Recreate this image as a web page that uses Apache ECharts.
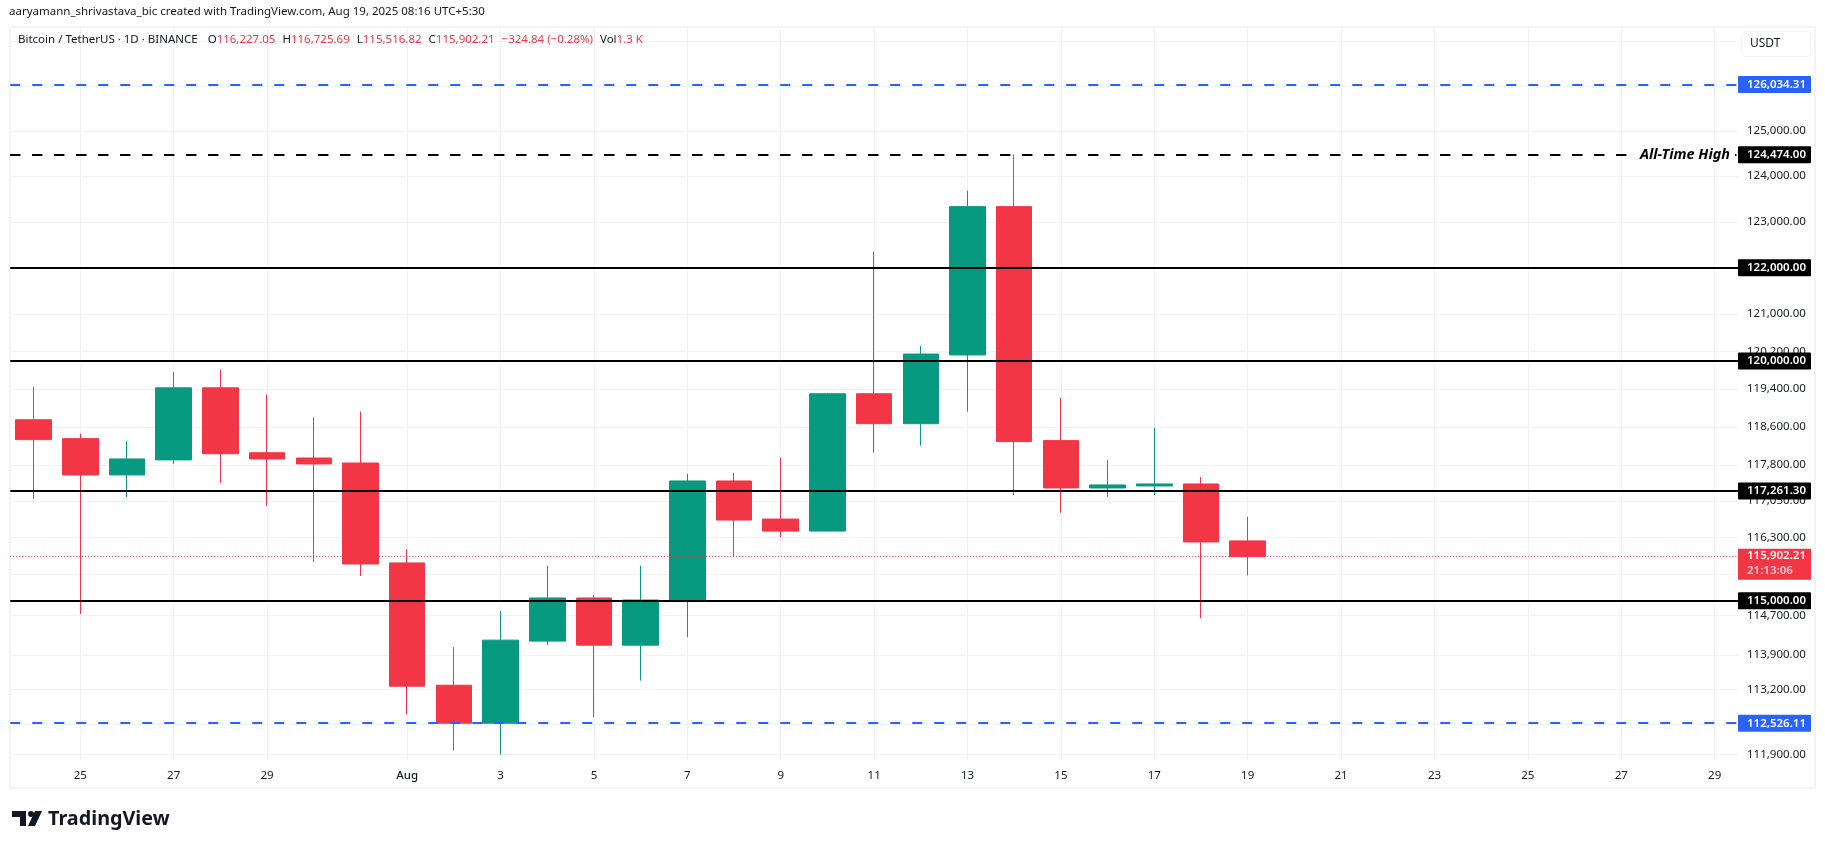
<![CDATA[<!DOCTYPE html>
<html>
<head>
<meta charset="utf-8">
<title>BTCUSDT 1D</title>
<script src="https://cdn.jsdelivr.net/npm/echarts@6/dist/echarts.min.js"></script>
<style>
  html, body { margin: 0; padding: 0; background: #fff; }
  #chart { width: 1825px; height: 849px; }
</style>
</head>
<body>
<div id="chart"></div>
<script>
const FONT = '"Noto Sans", sans-serif';
const UP = '#089981';
const DOWN = '#f23645';
const INK = '#131722';
const GRID = '#f1f2f4';

const dates = [
  '2025-07-24', '2025-07-25', '2025-07-26', '2025-07-27', '2025-07-28', '2025-07-29', '2025-07-30', '2025-07-31',
  '2025-08-01', '2025-08-02', '2025-08-03', '2025-08-04', '2025-08-05', '2025-08-06', '2025-08-07', '2025-08-08',
  '2025-08-09', '2025-08-10', '2025-08-11', '2025-08-12', '2025-08-13', '2025-08-14', '2025-08-15', '2025-08-16',
  '2025-08-17', '2025-08-18', '2025-08-19', '2025-08-20', '2025-08-21', '2025-08-22', '2025-08-23', '2025-08-24',
  '2025-08-25', '2025-08-26', '2025-08-27', '2025-08-28', '2025-08-29',
];
const opens = [118753, 118356, 117596, 117910, 119428, 118060, 117950, 117845, 115773, 113288, 112526, 114178, 115056,
  114096, 115014, 117470, 116678, 116430, 119302, 118670, 120127, 123331, 118315, 117324, 117366, 117408, 116227.05];
const closes = [118335, 117596, 117930, 119428, 118040, 117930, 117825, 115752, 113268, 112526, 114198, 115056, 114096,
  115014, 117470, 116658, 116430, 119302, 118670, 120146, 123331, 118294, 117324, 117387, 117408, 116205, 115902.21];
const lows = [117095, 114729, 117137, 117825, 117430, 116950, 115793, 115505, 112700, 111983, 111903, 114096, 112646,
  113380, 114258, 115902, 116305, 116420, 118060, 118208, 118925, 117178, 116805, 117137, 117178, 114640, 115516.82];
const highs = [119452, 118461, 118314, 119766, 119808, 119285, 118800, 118925, 116060, 114055, 114789, 115714, 115118,
  115714, 117617, 117638, 117956, 119323, 122352, 120320, 123681, 124474, 119218, 117910, 118588, 117553, 116725.69];

const tickDates = [
  '2025-07-25', '2025-07-27', '2025-07-29', '2025-08-01', '2025-08-03', '2025-08-05', '2025-08-07', '2025-08-09',
  '2025-08-11', '2025-08-13', '2025-08-15', '2025-08-17', '2025-08-19', '2025-08-21', '2025-08-23', '2025-08-25',
  '2025-08-27', '2025-08-29',
];
const priceTicks = [127000, 126000, 125000, 124000, 123000, 122000, 121000, 120200, 119400, 118600, 117800, 117050,
  116300, 115550, 114700, 113900, 113200, 112500, 111900];

const bluePrices = [126034.31, 112526.11];
const blackPrices = [122000, 120000, 117261.3, 115000];
const athPrice = 124474;
const lastPrice = 115902.21;
const countdown = '21:13:06';

const fmt = (v) => v.toLocaleString('en-US', { minimumFractionDigits: 2, maximumFractionDigits: 2 });

const badge = (bg) => ({
  show: true,
  position: 'end',
  distance: 0,
  formatter: (p) => fmt(p.value),
  backgroundColor: bg,
  color: '#fff',
  fontFamily: FONT,
  fontSize: 11.5,
  fontWeight: 600,
  width: 64,
  height: 17,
  lineHeight: 17,
  padding: [0, 0, 0, 9],
  align: 'left',
  verticalAlign: 'middle',
  borderRadius: 1,
});

const levelLines = [
  ...bluePrices.map((p) => ({
    yAxis: p,
    lineStyle: { color: '#2962ff', width: 2, type: [10, 12] },
    label: badge('#2962ff'),
  })),
  ...blackPrices.map((p) => ({
    yAxis: p,
    lineStyle: { color: '#000', width: 2, type: 'solid' },
    label: badge('#000'),
  })),
  {
    yAxis: athPrice,
    lineStyle: { color: '#000', width: 2, type: [10, 12] },
    label: badge('#000'),
  },
  {
    yAxis: athPrice,
    lineStyle: { color: '#000', width: 2, type: [10, 12] },
    label: {
      show: true,
      position: 'insideEnd',
      distance: 3,
      formatter: 'All-Time High',
      fontFamily: FONT,
      fontSize: 14.4,
      fontWeight: 'bold',
      fontStyle: 'italic',
      color: '#000',
      backgroundColor: '#fff',
      padding: [2, 5],
    },
  },
  {
    yAxis: lastPrice,
    lineStyle: { color: DOWN, width: 1, type: [1, 2] },
    label: {
      show: true,
      position: 'end',
      distance: 0,
      offset: [0, 7.5],
      formatter: (p) => `{a|${fmt(p.value)}}\n{b|${countdown}}`,
      backgroundColor: DOWN,
      width: 64,
      height: 31,
      padding: [0, 0, 0, 9],
      align: 'left',
      verticalAlign: 'middle',
      rich: {
        a: { color: '#fff', fontFamily: FONT, fontSize: 11.5, fontWeight: 600, lineHeight: 15 },
        b: { color: '#fbd0d4', fontFamily: FONT, fontSize: 11.5, fontWeight: 600, lineHeight: 15 },
      },
    },
  },
];

const headerRich = {
  k: { color: INK, fontFamily: FONT, fontSize: 11.5, fontWeight: 'normal' },
  v: { color: DOWN, fontFamily: FONT, fontSize: 11.5, fontWeight: 'normal' },
  g: { fontSize: 11.5, width: 7 },
  g0: { fontSize: 11.5, width: 10 },
};

const option = {
  animation: false,
  backgroundColor: '#fff',
  title: [
    {
      text: 'aaryamann_shrivastava_bic created with TradingView.com, Aug 19, 2025 08:16 UTC+5:30',
      left: 9,
      top: 6,
      padding: 0,
      textStyle: { color: INK, fontFamily: FONT, fontSize: 11.5, fontWeight: 'normal' },
    },
    {
      text: '{k|Bitcoin / TetherUS · 1D · BINANCE}{g0| }{k|O}{v|116,227.05}{g| }{k|H}{v|116,725.69}{g| }{k|L}{v|115,516.82}{g| }{k|C}{v|115,902.21}{g| }{v|−324.84 (−0.28%)}{g| }{k|Vol}{v|1.3 K}',
      left: 18,
      top: 34,
      padding: 0,
      textStyle: { rich: headerRich },
    },
    {
      text: 'TradingView',
      left: 48,
      top: 809,
      padding: 0,
      textStyle: { color: '#131722', fontFamily: FONT, fontSize: 19.8, fontWeight: 'bold' },
    },
  ],
  grid: { left: 10.25, right: 1825 - 1738, top: 28, bottom: 849 - 760, containLabel: false },
  xAxis: {
    type: 'category',
    data: dates,
    axisLine: { show: false },
    axisTick: { show: false, alignWithLabel: true },
    splitLine: {
      show: true,
      alignWithLabel: true,
      interval: (i, v) => tickDates.includes(v),
      lineStyle: { color: GRID, width: 1 },
    },
    axisLabel: {
      interval: (i, v) => tickDates.includes(v),
      margin: 10,
      fontFamily: FONT,
      fontSize: 11.5,
      color: INK,
      formatter: (v) => (v.endsWith('-08-01') ? '{m|Aug}' : String(Number(v.slice(8)))),
      rich: { m: { fontFamily: FONT, fontSize: 11.5, fontWeight: 500, color: INK } },
    },
  },
  yAxis: {
    type: 'log',
    position: 'right',
    min: 111794,
    max: 127304,
    axisLine: { show: false },
    axisTick: { show: false, customValues: priceTicks },
    splitLine: { show: true, lineStyle: { color: GRID, width: 1 } },
    axisLabel: {
      customValues: priceTicks,
      margin: 9,
      fontFamily: FONT,
      fontSize: 11.5,
      color: INK,
      formatter: (v) => fmt(v),
    },
  },
  graphic: [
    {
      type: 'rect',
      z: -1,
      shape: { x: 10, y: 27, width: 1805, height: 761 },
      style: { fill: 'none', stroke: '#f3f4f6', lineWidth: 2 },
    },
    {
      type: 'rect',
      z: 50,
      shape: { x: 1741.5, y: 31.5, width: 69, height: 25, r: 4 },
      style: { fill: '#fff', stroke: '#f0f3fa', lineWidth: 1 },
    },
    {
      type: 'text',
      z: 51,
      style: { x: 1750, y: 37.5, text: 'USDT', fontFamily: FONT, fontSize: 12, fill: INK },
    },
    // TradingView mark
    {
      type: 'polygon',
      shape: { points: [[12, 811], [26, 811], [26, 826], [20, 826], [20, 817], [12, 817]] },
      style: { fill: '#131722' },
    },
    { type: 'circle', shape: { cx: 31, cy: 814, r: 3 }, style: { fill: '#131722' } },
    {
      type: 'polygon',
      shape: { points: [[35, 811], [42, 811], [35, 826], [28, 826]] },
      style: { fill: '#131722' },
    },
  ],
  series: [
    {
      type: 'candlestick',
      data: opens.map((o, i) => [o, closes[i], lows[i], highs[i]]),
      barWidth: 36,
      itemStyle: {
        color: UP,
        color0: DOWN,
        borderColor: UP,
        borderColor0: DOWN,
        borderWidth: 1,
      },
      markLine: {
        silent: true,
        symbol: 'none',
        animation: false,
        precision: 2,
        data: levelLines,
      },
    },
  ],
};

const chart = echarts.init(document.getElementById('chart'));
chart.setOption(option);
window.addEventListener('resize', () => chart.resize());
</script>
</body>
</html>
]]>
